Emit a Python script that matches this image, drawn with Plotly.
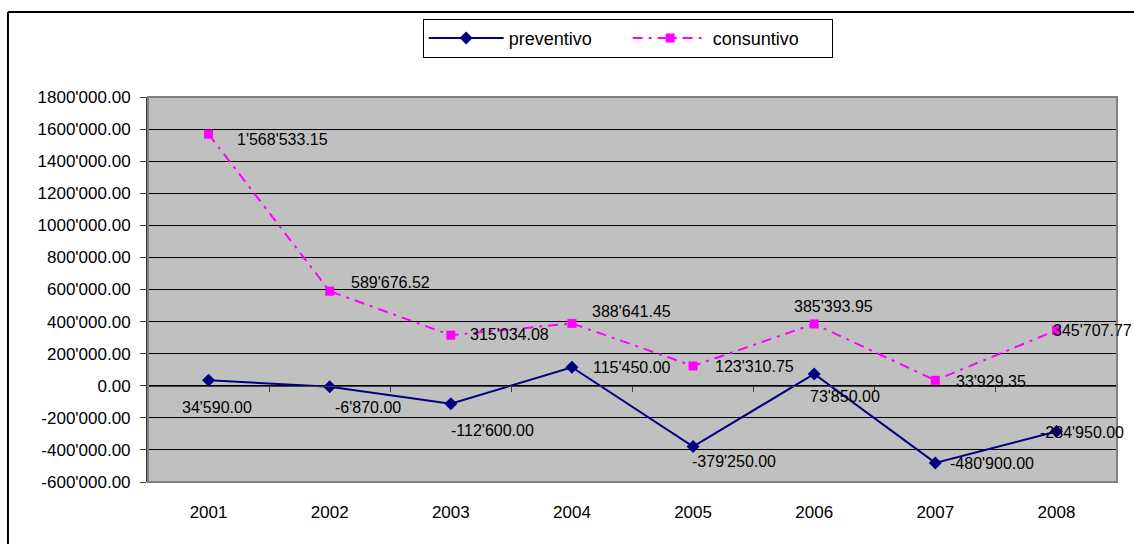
import plotly.graph_objects as go

# Dati di bilancio 2001-2008
anni = ["2001", "2002", "2003", "2004", "2005", "2006", "2007", "2008"]
preventivo = [34590.00, -6870.00, -112600.00, 115450.00, -379250.00, 73850.00, -480900.00, -284950.00]
consuntivo = [1568533.15, 589676.52, 315034.08, 388641.45, 123310.75, 385393.95, 33929.35, 345707.77]

y_tick_vals = [-600000, -400000, -200000, 0, 200000, 400000, 600000, 800000,
               1000000, 1200000, 1400000, 1600000, 1800000]
y_tick_text = ["-600'000.00", "-400'000.00", "-200'000.00", "0.00", "200'000.00",
               "400'000.00", "600'000.00", "800'000.00", "1000'000.00", "1200'000.00",
               "1400'000.00", "1600'000.00", "1800'000.00"]

# pixel offsets of the value labels relative to their points (dx, dy up)
off_prev = [(-29, -27), (3, -21), (-2, -27), (19, 0), (-3, -15), (-6, -23), (13, -1), (-18, -1)]
off_cons = [(26, -5), (19, 9), (17, 1), (18, 12), (20, -1), (-22, 17), (19, -1), (-5, 0)]

FONT = "Liberation Sans, Arial, sans-serif"
NAVY = "#000080"
MAGENTA = "#FF00FF"


def fmt(v):
    return f"{v:,.2f}".replace(",", "'")


fig = go.Figure()

fig.add_trace(go.Scatter(
    x=anni, y=preventivo, name="preventivo", mode="lines+markers",
    line=dict(color=NAVY, width=2),
    marker=dict(symbol="diamond", size=10, color=NAVY),
))
fig.add_trace(go.Scatter(
    x=anni, y=consuntivo, name="consuntivo", mode="lines+markers",
    line=dict(color=MAGENTA, width=2, dash="10px,6px,3px,6px"),
    marker=dict(symbol="square", size=9, color=MAGENTA),
))

# helper axis that carries the category ticks along the zero line
fig.add_trace(go.Scatter(
    x=[-0.5, 7.5], y=[0, 0], xaxis="x2", mode="lines",
    line=dict(width=0), hoverinfo="skip", showlegend=False,
))

annotations = []
for serie, offs in ((preventivo, off_prev), (consuntivo, off_cons)):
    for idx, (val, (dx, dy)) in enumerate(zip(serie, offs)):
        # category axis: annotation x is the category's serial index
        annotations.append(dict(
            x=idx, y=val, xref="x", yref="y", text=fmt(val), showarrow=False,
            xanchor="left", yanchor="middle", xshift=dx, yshift=dy,
            font=dict(family=FONT, size=16, color="#000000"),
        ))

fig.update_layout(
    width=1134, height=544,
    margin=dict(l=148, r=17, t=97, b=62),
    paper_bgcolor="#FFFFFF",
    plot_bgcolor="#C0C0C0",
    font=dict(family=FONT, size=17, color="#000000"),
    showlegend=True,
    legend=dict(
        orientation="h", x=0.495, y=1.203, xanchor="center", yanchor="top",
        bgcolor="#FFFFFF", bordercolor="#000000", borderwidth=1,
        font=dict(family=FONT, size=18, color="#000000"),
        entrywidth=114, itemwidth=75,
    ),
    xaxis=dict(
        type="category", range=[-0.5, 7.5], showgrid=False, zeroline=False,
        showline=False, ticks="", ticklabelstandoff=18,
        tickfont=dict(family=FONT, size=17, color="#000000"),
    ),
    xaxis2=dict(
        overlaying="x", anchor="free", position=0.25, side="bottom",
        range=[-0.5, 7.5], tickmode="array",
        tickvals=[i + 0.5 for i in range(len(anni))],
        showticklabels=False, ticks="outside", ticklen=5, tickcolor="#404040",
        showline=True, linecolor="#404040", linewidth=1,
        showgrid=False, zeroline=False,
    ),
    yaxis=dict(
        range=[-600000, 1800000], tickmode="array",
        tickvals=y_tick_vals, ticktext=y_tick_text,
        showgrid=True, gridcolor="#000000", gridwidth=1, zeroline=False,
        showline=True, linecolor="#404040", linewidth=2,
        ticks="outside", ticklen=6, tickcolor="#404040", tickwidth=1,
        ticklabelstandoff=6,
        tickfont=dict(family=FONT, size=17, color="#000000"),
    ),
    annotations=annotations,
    shapes=[
        # plot area frame
        dict(type="rect", xref="paper", yref="paper", x0=0, x1=1, y0=0, y1=1,
             line=dict(color="#808080", width=2), layer="above"),
        # chart frame (left and top edges)
        dict(type="line", xref="paper", yref="paper", x0=-0.1445, x1=-0.1445,
             y0=-0.17, y1=1.2208, line=dict(color="#000000", width=2)),
        dict(type="line", xref="paper", yref="paper", x0=-0.1445, x1=1.02,
             y0=1.2208, y1=1.2208, line=dict(color="#000000", width=2)),
    ],
)

fig.write_html("out.html")
